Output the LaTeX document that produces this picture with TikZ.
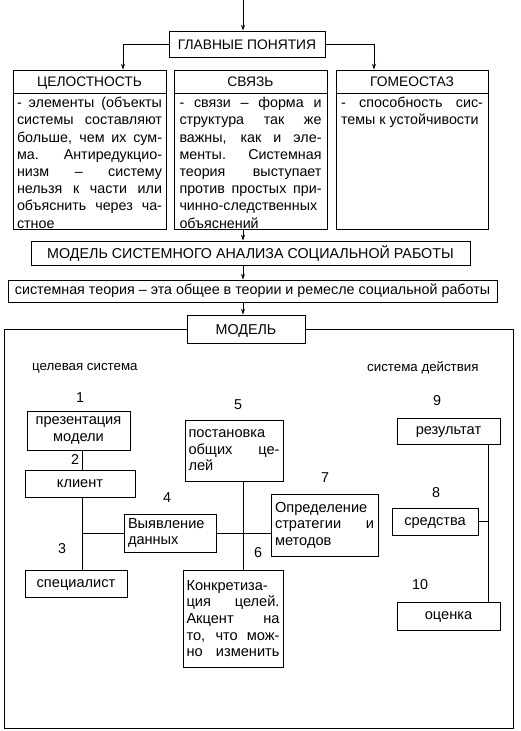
\documentclass[tikz,border=0pt]{standalone}
\usepackage{fontspec}
\setmainfont{Liberation Sans}
\usetikzlibrary{arrows.meta}
\newcommand\jl[1]{\makebox[\linewidth][s]{#1}}
\begin{document}
\begin{tikzpicture}[x=1pt,y=-1pt,
  every node/.style={font=\fontsize{14.3}{17.2}\selectfont},
  box/.style={draw, line width=0.8pt, inner sep=0pt, fill=white},
  arr/.style={-{Stealth[length=6pt,width=4pt]}, line width=0.8pt},
  ln/.style={line width=0.8pt},
  ttl/.style={font=\fontsize{13.8}{17}\selectfont},
  caps/.style={text height=10pt, text depth=0pt},
  low/.style={text height=10pt, text depth=3pt},
  inner/.style={font=\fontsize{14.6}{16.6}\selectfont},
  lbl/.style={font=\fontsize{13.3}{16}\selectfont, inner sep=0pt},
  num/.style={font=\fontsize{14.3}{16}\selectfont, inner sep=0pt}]
\useasboundingbox (0,0) rectangle (520,731);

% top part
\coordinate (top) at (243,0);
\node[box, ttl, caps, minimum width=156, minimum height=26] (glav) at (247,44) {ГЛАВНЫЕ ПОНЯТИЯ};
\draw[arr] (top) -- (top |- glav.north);

\node[box, ttl, caps, minimum width=153, minimum height=23] (celT) at (89.5,81.5) {ЦЕЛОСТНОСТЬ};
\node[box, minimum width=153, minimum height=136, anchor=north] (celB) at (celT.south)
 {\parbox[c][129pt][t]{145pt}{\jl{- элементы (объекты}\\
 \jl{системы составляют}\\
 \jl{больше, чем их сум-}\\
 \jl{ма. Антиредукцио-}\\
 \jl{низм \ – \ систему}\\
 \jl{нельзя к части или}\\
 \jl{объяснить через ча-}\\
 стное}};

\node[box, ttl, caps, minimum width=153, minimum height=23] (svT) at (250.5,81.5) {СВЯЗЬ};
\node[box, minimum width=153, minimum height=136, anchor=north] (svB) at (svT.south)
 {\parbox[c][129pt][t]{142pt}{\jl{- связи – форма и}\\
 \jl{структура так же}\\
 \jl{важны, как и эле-}\\
 \jl{менты. Системная}\\
 \jl{теория выступает}\\
 \jl{против простых при-}\\
 чинно-следственных\\
 объяснений}};

\node[box, ttl, caps, minimum width=152, minimum height=23] (gomT) at (412,81.5) {ГОМЕОСТАЗ};
\node[box, minimum width=152, minimum height=136, anchor=north] (gomB) at (gomT.south)
 {\parbox[c][129pt][t]{142pt}{\jl{- способность сис-}\\
 темы к устойчивости}};

\draw[arr] (glav.west) -| ([xshift=33.5pt]celT.north);
\draw[arr] (glav.east) -| ([xshift=-38pt]gomT.north);

\node[box, caps, minimum width=439, minimum height=24] (modS) at (250.5,253) {МОДЕЛЬ СИСТЕМНОГО АНАЛИЗА СОЦИАЛЬНОЙ РАБОТЫ};
\draw[arr] (svB.south -| top) -- (modS.north -| top);

\node[box, low, minimum width=489, minimum height=22] (teor) at (252.5,291) {системная теория – эта общее в теории и ремесле социальной работы};
\draw[arr] (modS.south -| top) -- (teor.north -| top);

\node[box, caps, minimum width=118, minimum height=28] (model) at (246,329) {МОДЕЛЬ};
\draw[arr] (teor.south -| top) -- (model.north -| top);

\coordinate (fBL) at (4,728);
\coordinate (fBR) at (513,728);
\draw[ln] (model.west) -| (fBL) -- (fBR) |- (model.east);

% inside the model
\node[lbl, anchor=west] (celsys) at (32,368) {целевая система};
\node[lbl, anchor=west] (actsys) at (367,368) {система действия};

\node[box, inner, minimum width=103, minimum height=39, align=center] (pres) at (78.5,430.5) {презентация\\модели};
\node[box, inner, low, minimum width=110, minimum height=27] (klient) at (80,483.5) {клиент};
\node[box, inner, low, minimum width=102, minimum height=27] (spec) at (76,583.5) {специалист};
\node[box, inner, minimum width=92, minimum height=38] (vyyav) at (170,533) {\parbox{84pt}{Выявление\\данных}};
\node[box, inner, minimum width=98, minimum height=61] (post) at (234,450.5) {\parbox{91pt}{постановка\\\jl{общих \ це-}\\лей}};
\node[box, inner, minimum width=100, minimum height=97] (konkr) at (233,618.5) {\parbox{93pt}{Конкретиза-\\\jl{ция целей.}\\\jl{Акцент на}\\\jl{то, что мож-}\\\jl{но изменить}}};
\node[box, inner, minimum width=107, minimum height=62] (opred) at (324.5,525) {\parbox{99pt}{Определение\\\jl{стратегии и}\\методов}};
\node[box, inner, low, minimum width=103, minimum height=26] (rez) at (448.5,431) {результат};
\node[box, inner, low, minimum width=86, minimum height=27] (sred) at (435,521.5) {средства};
\node[box, inner, low, minimum width=103, minimum height=28] (ocenka) at (448.5,616) {оценка};

\node[num] (n1) at (80,398) {1};
\node[num] (n2) at (75,460) {2};
\node[num] (n3) at (62,549) {3};
\node[num] (n4) at (167,498) {4};
\node[num] (n5) at (238,405) {5};
\node[num] (n6) at (258,553) {6};
\node[num] (n7) at (325,478) {7};
\node[num] (n8) at (436,493) {8};
\node[num] (n9) at (437,401) {9};
\node[num] (n10) at (420,585) {10};

\coordinate (cL) at (82,0);
\coordinate (cM) at (243,0);
\coordinate (cR) at (488,0);
\draw[ln] (pres.south -| cL) -- (klient.north -| cL);
\draw[ln] (klient.south -| cL) -- (spec.north -| cL);
\draw[ln] (vyyav.west -| cL) -- (vyyav.west);
\draw[ln] (vyyav.east) -- (opred.west |- vyyav.east);
\draw[ln] (post.south -| cM) -- (konkr.north -| cM);
\draw[ln] (rez.south -| cR) -- (ocenka.north -| cR);
\draw[ln] (sred.east) -- (sred.east -| cR);
\end{tikzpicture}
\end{document}
